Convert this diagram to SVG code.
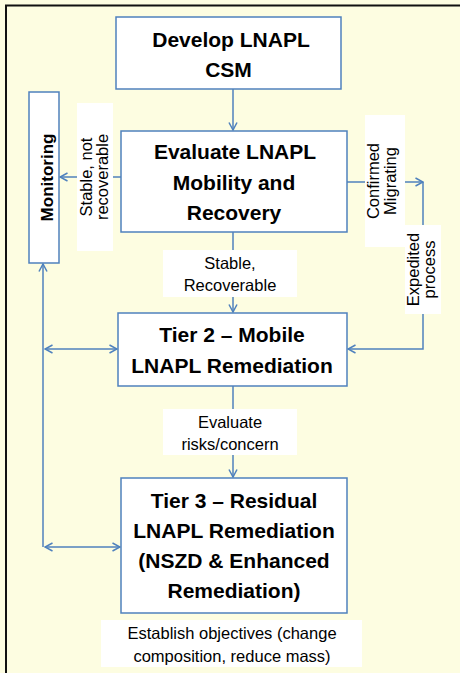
<svg xmlns="http://www.w3.org/2000/svg" width="460" height="673" viewBox="0 0 460 673">
<defs>
<marker id="ar" viewBox="0 0 10 10" refX="9" refY="5" markerWidth="10" markerHeight="10" markerUnits="userSpaceOnUse" orient="auto-start-reverse">
<path d="M1.5,1 L9,5 L1.5,9" fill="none" stroke="#4F81BD" stroke-width="1.5"/>
</marker>
</defs>
<style>
.box{fill:#fff;stroke:#4F81BD;stroke-width:1.5}
.lbl{fill:#fff}
.t{font-family:"Liberation Sans",Arial,sans-serif;font-weight:bold;font-size:21px;fill:#000;text-anchor:middle}
.s{font-family:"Liberation Sans",Arial,sans-serif;font-size:16.5px;fill:#000;text-anchor:middle}
.ln{fill:none;stroke:#4F81BD;stroke-width:1.5}
</style>
<rect x="0" y="0" width="460" height="673" fill="#FDFDE1"/>
<path d="M6,673 V5.5 H460" fill="none" stroke="#111" stroke-width="2"/>

<g id="connectors">
<line class="ln" x1="233" y1="89" x2="233" y2="130" marker-end="url(#ar)"/>
<line class="ln" x1="233" y1="232" x2="233" y2="312" marker-end="url(#ar)"/>
<line class="ln" x1="233" y1="386" x2="233" y2="477" marker-end="url(#ar)"/>
<line class="ln" x1="121" y1="177" x2="60" y2="177" marker-end="url(#ar)"/>
<line class="ln" x1="347" y1="182" x2="423" y2="182" marker-end="url(#ar)"/>
<polyline class="ln" points="423,182 423,349 348,349" marker-end="url(#ar)"/>
<line class="ln" x1="43" y1="547" x2="43" y2="264" marker-end="url(#ar)"/>
<line class="ln" x1="45" y1="349" x2="117" y2="349" marker-start="url(#ar)" marker-end="url(#ar)"/>
<line class="ln" x1="45" y1="547" x2="120" y2="547" marker-start="url(#ar)" marker-end="url(#ar)"/>
</g>

<g id="develop">
<rect class="box" x="116" y="17" width="225" height="72"/>
<text class="t" x="231" y="47">Develop LNAPL</text>
<text class="t" x="228.5" y="77">CSM</text>
</g>

<g id="evaluate">
<rect class="box" x="121" y="131" width="226" height="101"/>
<text class="t" x="235" y="159">Evaluate LNAPL</text>
<text class="t" x="234" y="190">Mobility and</text>
<text class="t" x="234" y="220">Recovery</text>
</g>

<g id="monitoring">
<rect class="box" x="29" y="92" width="30" height="171"/>
<text class="t" style="font-size:17px" transform="translate(53,177.5) rotate(-90)">Monitoring</text>
</g>

<g id="label-stable-not">
<rect class="lbl" x="77" y="103" width="36" height="148"/>
<text class="s" transform="translate(91.5,177) rotate(-90)">Stable, not</text>
<text class="s" transform="translate(108,177) rotate(-90)">recoverable</text>
</g>

<g id="label-confirmed">
<rect class="lbl" x="365" y="115" width="40" height="132"/>
<text class="s" transform="translate(378.5,181) rotate(-90)">Confirmed</text>
<text class="s" transform="translate(395.5,181) rotate(-90)">Migrating</text>
</g>

<g id="label-expedited">
<rect class="lbl" x="405" y="225" width="36" height="89"/>
<text class="s" transform="translate(419,269.5) rotate(-90)">Expedited</text>
<text class="s" transform="translate(435,269.5) rotate(-90)">process</text>
</g>

<g id="label-stable-rec">
<rect class="lbl" x="163" y="250" width="134" height="47"/>
<text class="s" x="230" y="268.5">Stable,</text>
<text class="s" x="230" y="291">Recoverable</text>
</g>

<g id="tier2">
<rect class="box" x="118" y="313" width="229" height="73"/>
<text class="t" x="232" y="342">Tier 2 – Mobile</text>
<text class="t" x="232" y="373">LNAPL Remediation</text>
</g>

<g id="label-evaluate-risks">
<rect class="lbl" x="163" y="409" width="134" height="46"/>
<text class="s" x="230" y="428">Evaluate</text>
<text class="s" x="230" y="450">risks/concern</text>
</g>

<g id="tier3">
<rect class="box" x="121" y="478" width="226" height="135"/>
<text class="t" x="234" y="508">Tier 3 – Residual</text>
<text class="t" x="234" y="538">LNAPL Remediation</text>
<text class="t" x="234" y="568">(NSZD &amp; Enhanced</text>
<text class="t" x="234" y="598">Remediation)</text>
</g>

<g id="label-establish">
<rect class="lbl" x="101" y="620" width="261" height="47"/>
<text class="s" x="232" y="639">Establish objectives (change</text>
<text class="s" x="232" y="661.5">composition, reduce mass)</text>
</g>
</svg>
